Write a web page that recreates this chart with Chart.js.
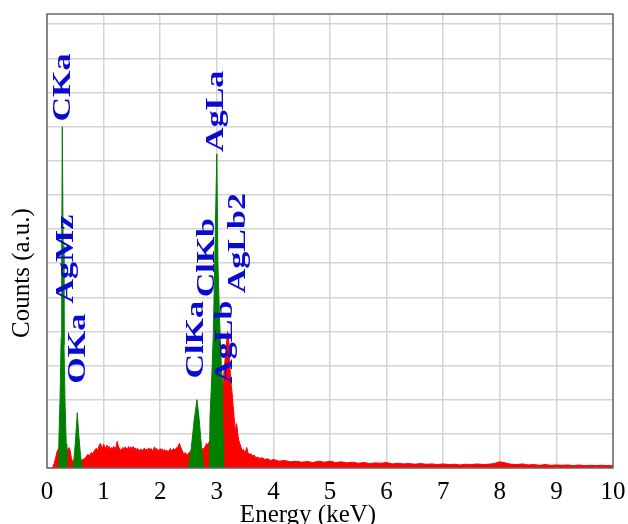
<!DOCTYPE html>
<html lang="en">
<head>
    <meta charset="UTF-8">
    <title>EDS Spectrum</title>
    <script src="https://cdn.jsdelivr.net/npm/chart.js@4.4.0/dist/chart.umd.min.js"></script>
    <style>
        body { margin: 0; padding: 0; background: #fff; }
        .chart-box { width: 628px; height: 524px; }
    </style>
</head>
<body>
    <div class="chart-box"><canvas id="edsChart"></canvas></div>

    <script>
        // tick labels of the energy axis
        const energyTicks = ['0', '1', '2', '3', '4', '5', '6', '7', '8', '9', '10'];

        // full spectrum (red), energy in keV / counts in grid units
        const specEnergy = [
            0.00, 0.08, 0.10, 0.13, 0.16, 0.18, 0.20, 0.22, 0.26, 0.30, 0.34, 0.37, 0.39, 0.41, 0.43, 0.45,
            0.48, 0.52, 0.56, 0.60, 0.63, 0.66, 0.69, 0.72, 0.75, 0.78, 0.81, 0.84, 0.87, 0.90, 0.92, 0.94,
            0.96, 0.98, 1.00, 1.02, 1.04, 1.06, 1.08, 1.10, 1.12, 1.14, 1.16, 1.18, 1.20, 1.22, 1.24, 1.26,
            1.28, 1.30, 1.32, 1.34, 1.36, 1.38, 1.40, 1.42, 1.44, 1.46, 1.48, 1.50, 1.52, 1.54, 1.56, 1.58,
            1.60, 1.62, 1.64, 1.66, 1.68, 1.70, 1.72, 1.74, 1.76, 1.78, 1.80, 1.82, 1.84, 1.86, 1.88, 1.90,
            1.92, 1.94, 1.96, 1.98, 2.00, 2.02, 2.04, 2.06, 2.08, 2.10, 2.12, 2.14, 2.16, 2.18, 2.20, 2.22,
            2.24, 2.26, 2.28, 2.30, 2.32, 2.34, 2.36, 2.38, 2.40, 2.42, 2.44, 2.46, 2.48, 2.50, 2.60, 2.70,
            2.76, 2.78, 2.80, 2.82, 2.84, 2.86, 2.88, 2.95, 3.05, 3.10, 3.13, 3.16, 3.19, 3.21, 3.23, 3.25,
            3.27, 3.29, 3.31, 3.33, 3.35, 3.37, 3.39, 3.41, 3.43, 3.45, 3.47, 3.49, 3.51, 3.53, 3.55, 3.57,
            3.60, 3.63, 3.66, 3.69, 3.72, 3.75, 3.80, 3.85, 3.90, 3.95, 4.00, 4.10, 4.20, 4.30, 4.40, 4.50,
            4.60, 4.70, 4.80, 4.90, 5.00, 5.10, 5.20, 5.30, 5.40, 5.50, 5.60, 5.70, 5.80, 5.90, 6.00, 6.10,
            6.20, 6.30, 6.40, 6.50, 6.60, 6.70, 6.80, 6.90, 7.00, 7.10, 7.20, 7.30, 7.40, 7.50, 7.60, 7.70,
            7.80, 7.90, 8.00, 8.10, 8.20, 8.30, 8.40, 8.50, 8.60, 8.70, 8.80, 8.90, 9.00, 9.10, 9.20, 9.30,
            9.40, 9.50, 9.60, 9.70, 9.80, 9.90, 10.00
        ];
        const specCounts = [
            0, 0, 0.02, 0.15, 0.35, 0.50, 0.55, 0.65, 0.70, 0.60, 0.50, 0.55, 0.60, 0.50, 0.30, 0.20,
            0.15, 0.20, 0.15, 0.20, 0.25, 0.27, 0.32, 0.40, 0.36, 0.45, 0.42, 0.52, 0.58, 0.52, 0.65, 0.72,
            0.64, 0.57, 0.70, 0.62, 0.58, 0.67, 0.57, 0.64, 0.54, 0.60, 0.57, 0.64, 0.54, 0.62, 0.78, 0.64,
            0.57, 0.52, 0.55, 0.60, 0.53, 0.62, 0.58, 0.55, 0.63, 0.57, 0.61, 0.58, 0.63, 0.55, 0.59, 0.53,
            0.58, 0.50, 0.53, 0.56, 0.50, 0.55, 0.58, 0.52, 0.56, 0.52, 0.59, 0.52, 0.57, 0.50, 0.54, 0.62,
            0.52, 0.57, 0.52, 0.50, 0.57, 0.52, 0.56, 0.49, 0.54, 0.48, 0.52, 0.47, 0.52, 0.57, 0.50, 0.54,
            0.57, 0.52, 0.58, 0.60, 0.64, 0.72, 0.62, 0.54, 0.46, 0.41, 0.45, 0.41, 0.39, 0.43, 0.60, 0.60,
            0.55, 0.60, 0.65, 0.72, 0.68, 0.75, 0.80, 1.00, 1.50, 2.20, 2.90, 3.40, 4.00, 3.80, 3.00, 2.50,
            2.20, 1.80, 1.40, 1.10, 1.30, 1.00, 0.80, 0.70, 0.60, 0.50, 0.55, 0.45, 0.50, 0.60, 0.45, 0.40,
            0.42, 0.35, 0.38, 0.30, 0.32, 0.28, 0.30, 0.25, 0.27, 0.22, 0.25, 0.20, 0.22, 0.18, 0.20, 0.17,
            0.19, 0.16, 0.20, 0.17, 0.20, 0.16, 0.18, 0.15, 0.17, 0.14, 0.16, 0.13, 0.15, 0.14, 0.16, 0.12,
            0.14, 0.12, 0.13, 0.11, 0.13, 0.11, 0.12, 0.10, 0.12, 0.10, 0.11, 0.09, 0.11, 0.10, 0.12, 0.10,
            0.11, 0.13, 0.18, 0.15, 0.11, 0.10, 0.12, 0.09, 0.10, 0.08, 0.10, 0.08, 0.09, 0.08, 0.09, 0.07,
            0.09, 0.07, 0.08, 0.07, 0.08, 0.07, 0.07
        ];

        // identified peaks (green)
        const cKaEnergy = [0.20, 0.21, 0.23, 0.25, 0.26, 0.27, 0.285, 0.30, 0.32, 0.34, 0.35];
        const cKaCounts = [0, 0.8, 2.0, 3.8, 6.0, 10.0, 6.5, 3.6, 1.8, 0.7, 0];
        const oKaEnergy = [0.46, 0.49, 0.52, 0.535, 0.56, 0.59, 0.62];
        const oKaCounts = [0, 0.5, 1.2, 1.62, 1.0, 0.4, 0];
        const clKaEnergy = [2.50, 2.55, 2.60, 2.65, 2.69, 2.73, 2.77];
        const clKaCounts = [0, 0.6, 1.4, 2.0, 1.4, 0.6, 0];
        const agLaEnergy = [2.87, 2.88, 2.91, 2.94, 2.97, 3.00, 3.02, 3.05, 3.08, 3.10, 3.11, 3.12];
        const agLaCounts = [0, 1.5, 2.6, 4.0, 6.6, 9.2, 6.0, 4.3, 3.0, 2.5, 1.0, 0];

        // peak annotations
        const peakNames = ['CKa', 'AgMz', 'OKa', 'ClKa', 'ClKb', 'AgLa', 'AgLb', 'AgLb2'];
        const peakEnergy = [0.29, 0.35, 0.565, 2.65, 2.84, 3.00, 3.16, 3.39];

        function toPoints(xs, ys) {
            return xs.map((x, i) => ({ x: x, y: ys[i] }));
        }

        function peakSet(xs, ys) {
            return {
                data: toPoints(xs, ys),
                borderColor: '#008000',
                backgroundColor: '#008000',
                borderWidth: 1,
                fill: 'origin',
                pointRadius: 0,
                tension: 0
            };
        }

        const serif = "'Liberation Serif', 'Times New Roman', serif";

        // where the rotated peak names start (bottom end), in grid units
        const labelBase = [10.15, 4.82, 2.47, 2.62, 5.0, 9.26, 2.47, 5.12];

        const peakLabels = {
            id: 'peakLabels',
            afterDatasetsDraw(chart) {
                const ctx = chart.ctx;
                const xs = chart.scales.x, ys = chart.scales.y;
                ctx.save();
                ctx.fillStyle = '#0a0ad0';
                ctx.font = 'bold 25px ' + serif;
                ctx.textAlign = 'left';
                ctx.textBaseline = 'middle';
                peakNames.forEach((name, i) => {
                    ctx.save();
                    ctx.translate(xs.getPixelForValue(peakEnergy[i]), ys.getPixelForValue(labelBase[i]));
                    ctx.rotate(-Math.PI / 2);
                    ctx.scale(1.36, 1);
                    ctx.fillText(name, 0, 0);
                    ctx.restore();
                });
                ctx.restore();
            },
            afterDraw(chart) {
                const ctx = chart.ctx;
                const a = chart.chartArea;
                ctx.save();
                ctx.strokeStyle = '#6a6a6a';
                ctx.lineWidth = 1.5;
                ctx.strokeRect(a.left, a.top, a.right - a.left, a.bottom - a.top);

                ctx.fillStyle = '#000';
                ctx.font = '25px ' + serif;
                ctx.textAlign = 'center';
                ctx.textBaseline = 'alphabetic';
                ctx.fillText('Energy (keV)', 308, 522);

                ctx.translate(22, 273);
                ctx.rotate(-Math.PI / 2);
                ctx.textBaseline = 'middle';
                ctx.fillText('Counts (a.u.)', 0, 0);
                ctx.restore();
            }
        };

        const edsConfig = {
            type: 'line',
            data: {
                datasets: [
                    peakSet(cKaEnergy, cKaCounts),
                    peakSet(oKaEnergy, oKaCounts),
                    peakSet(clKaEnergy, clKaCounts),
                    peakSet(agLaEnergy, agLaCounts),
                    {
                        data: toPoints(specEnergy, specCounts),
                        borderColor: '#ff0000',
                        backgroundColor: '#ff0000',
                        borderWidth: 1,
                        fill: 'origin',
                        pointRadius: 0,
                        tension: 0
                    }
                ]
            },
            options: {
                responsive: false,
                animation: false,
                layout: { padding: { left: 47, top: 14, right: 15, bottom: 8 } },
                plugins: {
                    legend: { display: false },
                    tooltip: { enabled: false }
                },
                scales: {
                    x: {
                        type: 'linear',
                        min: 0,
                        max: 10,
                        afterFit: (scale) => { scale.paddingLeft = 0; scale.paddingRight = 0; },
                        grid: { color: '#d4d4d4', lineWidth: 1.5, drawTicks: false },
                        border: { display: false },
                        ticks: {
                            stepSize: 1,
                            padding: 9,
                            color: '#000',
                            font: { family: serif, size: 25 },
                            callback: (v) => energyTicks[v]
                        }
                    },
                    y: {
                        min: 0,
                        max: 13.3,
                        grid: { color: '#d4d4d4', lineWidth: 1.5, drawTicks: false },
                        border: { display: false },
                        ticks: { display: false, stepSize: 1, includeBounds: false }
                    }
                }
            },
            plugins: [peakLabels]
        };

        const canvas = document.getElementById('edsChart');
        canvas.width = 628;
        canvas.height = 524;
        new Chart(canvas.getContext('2d'), edsConfig);
    </script>
</body>
</html>
